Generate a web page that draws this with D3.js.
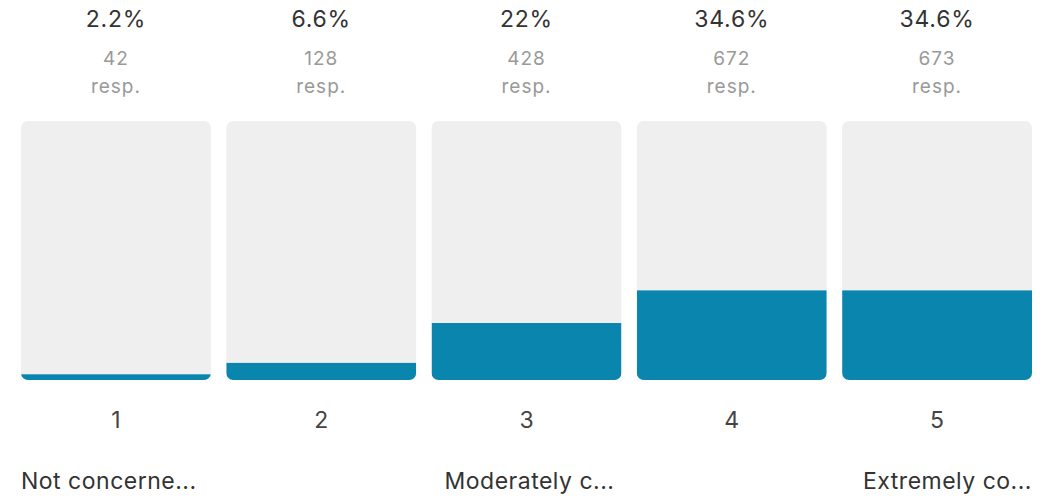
<!DOCTYPE html>
<html>
<head>
<meta charset="utf-8">
<script src="https://cdn.jsdelivr.net/npm/d3@7"></script>
<style>
  html, body { margin: 0; padding: 0; background: #fff; }
  svg { display: block; font-family: Inter, Roboto, "Noto Sans", sans-serif; }
</style>
</head>
<body>
<svg id="chart" width="1059" height="496"></svg>
<script>
// Data
const categories = ['1', '2', '3', '4', '5'];
const percents = [2.2, 6.6, 22, 34.6, 34.6];
const percentLabels = ['2.2%', '6.6%', '22%', '34.6%', '34.6%'];
const responses = [42, 128, 428, 672, 673];
const scaleLabels = ['Not concerne...', '', 'Moderately c...', '', 'Extremely co...'];

const svg = d3.select('#chart');

// Scales
const x = d3.scaleBand()
  .domain(categories)
  .range([21, 1032])
  .paddingInner(0.075)
  .paddingOuter(0);

const y = d3.scaleLinear()
  .domain([0, 100])
  .range([380, 121]);

const radius = 7;

// Clip paths so the blue fill follows the rounded corners of the track
const defs = svg.append('defs');
defs.selectAll('clipPath')
  .data(categories)
  .enter()
  .append('clipPath')
  .attr('id', (d, i) => 'clip-' + i)
  .append('rect')
  .attr('x', d => x(d))
  .attr('y', y(100))
  .attr('width', x.bandwidth())
  .attr('height', y(0) - y(100))
  .attr('rx', radius);

const bars = svg.selectAll('.bar')
  .data(categories.map((c, i) => ({ cat: c, pct: percents[i], label: percentLabels[i], n: responses[i], text: scaleLabels[i] })))
  .enter()
  .append('g')
  .attr('class', 'bar');

const cx = d => x(d.cat) + x.bandwidth() / 2;

// Grey track
bars.append('rect')
  .attr('x', d => x(d.cat))
  .attr('y', y(100))
  .attr('width', x.bandwidth())
  .attr('height', y(0) - y(100))
  .attr('rx', radius)
  .attr('fill', '#efefef');

// Blue fill
bars.append('rect')
  .attr('clip-path', (d, i) => 'url(#clip-' + i + ')')
  .attr('x', d => x(d.cat))
  .attr('y', d => y(d.pct))
  .attr('width', x.bandwidth())
  .attr('height', d => y(0) - y(d.pct))
  .attr('fill', '#0a86ae');

// Percent on top
bars.append('text')
  .attr('x', cx)
  .attr('y', 27)
  .attr('text-anchor', 'middle')
  .attr('font-size', 23)
  .attr('letter-spacing', 0.8)
  .attr('fill', '#333')
  .text(d => d.label);

// Response count
bars.append('text')
  .attr('x', cx)
  .attr('y', 65)
  .attr('text-anchor', 'middle')
  .attr('font-size', 19)
  .attr('letter-spacing', 1)
  .attr('fill', '#999')
  .text(d => d.n);

bars.append('text')
  .attr('x', cx)
  .attr('y', 93)
  .attr('text-anchor', 'middle')
  .attr('font-size', 19)
  .attr('letter-spacing', 1)
  .attr('fill', '#999')
  .text('resp.');

// Axis numbers
bars.append('text')
  .attr('x', cx)
  .attr('y', 428)
  .attr('text-anchor', 'middle')
  .attr('font-size', 23)
  .attr('fill', '#444')
  .text(d => d.cat);

// Scale descriptions: first left-aligned, middle centred, last right-aligned
bars.filter(d => d.text !== '')
  .append('text')
  .attr('x', (d, i) => i === 0 ? x(d.cat) : i === 1 ? cx(d) + 3 : x(d.cat) + x.bandwidth())
  .attr('y', 489)
  .attr('text-anchor', (d, i) => i === 0 ? 'start' : i === 1 ? 'middle' : 'end')
  .attr('font-size', 23)
  .attr('letter-spacing', 0.5)
  .attr('fill', '#333')
  .text(d => d.text);
</script>
</body>
</html>
